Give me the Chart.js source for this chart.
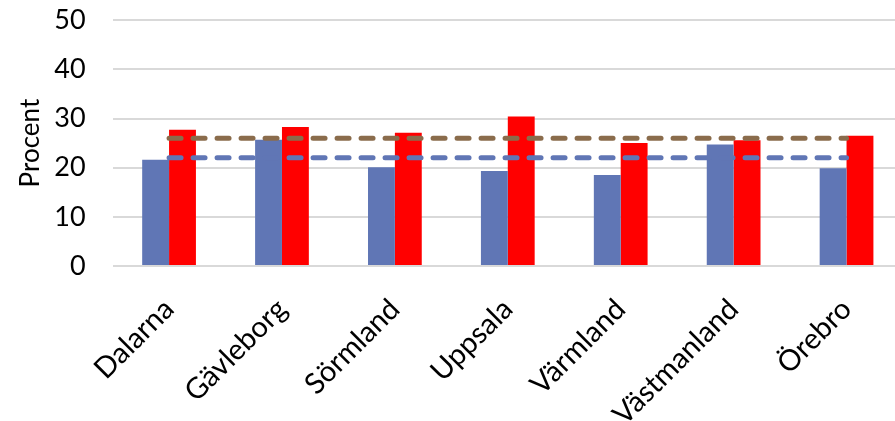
<!DOCTYPE html>
<html>
<head>
<meta charset="utf-8">
<script src="https://cdn.jsdelivr.net/npm/chart.js@4.4.0/dist/chart.umd.min.js"></script>
<style>
    html, body { margin: 0; padding: 0; background: #fff; overflow: hidden; }
    #wrap { width: 903px; height: 421px; position: relative; }
</style>
</head>
<body>
<div id="wrap"><canvas id="lanChart"></canvas></div>
<script>
// Chart data
const regions = ["Dalarna", "Gävleborg", "Sörmland", "Uppsala", "Värmland", "Västmanland", "Örebro"];
const blueBars = [21.6, 25.7, 20.1, 19.3, 18.5, 24.7, 19.9];
const redBars = [27.7, 28.3, 27.1, 30.4, 25.0, 25.6, 26.5];
const blueAverage = [22, 22, 22, 22, 22, 22, 22];
const brownAverage = [26, 26, 26, 26, 26, 26, 26];
const yTicks = [0, 10, 20, 30, 40, 50];

const fontFamily = "Lato, 'Open Sans', sans-serif";
const gridGrey = "#d9d9d9";

const ctx = document.getElementById("lanChart").getContext("2d");
new Chart(ctx, {
    type: "bar",
    data: {
        labels: regions,
        datasets: [
            {
                label: "Blå",
                data: blueBars,
                backgroundColor: "#6076b5",
                order: 2
            },
            {
                label: "Röd",
                data: redBars,
                backgroundColor: "#ff0000",
                order: 2
            },
            {
                type: "line",
                label: "Snitt brun",
                data: brownAverage,
                borderColor: "#8a6c4c",
                borderWidth: 5,
                borderDash: [12, 12],
                borderCapStyle: "round",
                pointRadius: 0,
                fill: false,
                order: 1
            },
            {
                type: "line",
                label: "Snitt blå",
                data: blueAverage,
                borderColor: "#6076b5",
                borderWidth: 5,
                borderDash: [12, 12],
                borderCapStyle: "round",
                pointRadius: 0,
                fill: false,
                order: 1
            }
        ]
    },
    options: {
        responsive: true,
        maintainAspectRatio: false,
        animation: false,
        layout: { padding: { left: 11, top: 0, right: 0, bottom: 0 } },
        plugins: {
            legend: { display: false },
            tooltip: { enabled: false }
        },
        datasets: {
            bar: { categoryPercentage: 0.476, barPercentage: 1.0 }
        },
        scales: {
            x: {
                grid: { display: false },
                border: { display: false },
                ticks: {
                    color: "#000",
                    font: { family: fontFamily, size: 29 },
                    maxRotation: 45,
                    minRotation: 45,
                    padding: 18
                },
                afterFit: function (scale) { scale.height = 155; }
            },
            y: {
                min: 0,
                max: 50,
                afterBuildTicks: function (scale) {
                    scale.ticks = yTicks.map(v => ({ value: v }));
                },
                // tick marks kept invisible so the label gap does not pad the top
                grid: { color: gridGrey, lineWidth: 2, drawTicks: true, tickLength: 23, tickColor: "rgba(0,0,0,0)" },
                border: { display: false },
                ticks: {
                    color: "#000",
                    font: { family: fontFamily, size: 27 },
                    padding: 4
                },
                title: {
                    display: true,
                    text: "Procent",
                    color: "#000",
                    font: { family: fontFamily, size: 26 },
                    padding: { top: 4, bottom: 4 }
                },
                afterFit: function (scale) { scale.width = 101.6; }
            }
        }
    }
});
</script>
</body>
</html>
